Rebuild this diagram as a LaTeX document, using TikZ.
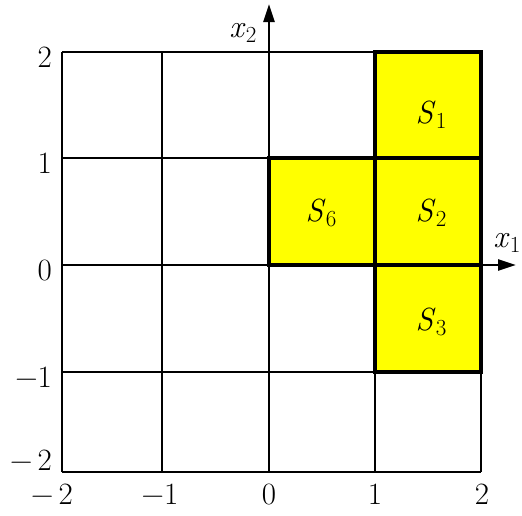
\documentclass[tikz,border=0pt]{standalone}
\usepackage{fontspec}
\usetikzlibrary{arrows.meta}
\definecolor{boxyellow}{RGB}{255,255,0}
\newcommand{\lab}[2]{\textit{#1}\kern0.01em\raisebox{-0.35ex}{\fontsize{23}{23}\selectfont #2}}
\begin{document}
\begin{tikzpicture}[x=1pt,y=-1pt,
  thin line/.style={line width=2.2pt},
  thick line/.style={line width=4pt},
  axis/.style={line width=2.6pt, -{Triangle[length=18pt,width=11pt]}},
  tick/.style={font=\fontsize{31}{31}\selectfont, inner sep=0pt},
  slabel/.style={font=\fontsize{32}{32}\selectfont, inner sep=0pt}]
\useasboundingbox (0,0) rectangle (522,515);
% yellow squares
\fill[boxyellow] (375,52) rectangle (481,372);
\fill[boxyellow] (269,158) rectangle (375,265);
% grid
\foreach \x in {62,162,269,375,481} \draw[thin line] (\x,52) -- (\x,472);
\foreach \y in {52,158,265,372,472} \draw[thin line] (62,\y) -- (481,\y);
% thick borders
\draw[thick line] (375,52) rectangle (481,372);
\draw[thick line] (375,158) -- (481,158);
\draw[thick line] (375,265) -- (481,265);
\draw[thick line] (269,158) rectangle (375,265);
% axes
\coordinate (ox) at (62,265);
\coordinate (ex) at (516,265);
\coordinate (oy) at (269,472);
\coordinate (ey) at (269,4);
\draw[axis] (ox) -- (ex);
\draw[axis] (oy) -- (ey);
% axis labels
\node[slabel] (lx1) at (507,243) {\lab{x}{1}};
\node[slabel] (lx2) at (243,33) {\lab{x}{2}};
% region labels
\node[slabel] (s1) at (431,115) {\lab{S}{1}};
\node[slabel] (s2) at (431,213) {\lab{S}{2}};
\node[slabel] (s6) at (321,213) {\lab{S}{6}};
\node[slabel] (s3) at (431,322) {\lab{S}{3}};
% y ticks
\node[tick, anchor=east] (ty2) at (52,57) {2};
\node[tick, anchor=east] (ty1) at (52,163) {1};
\node[tick, anchor=east] (ty0) at (52,270) {0};
\node[tick, anchor=east] (tym1) at (52,377) {−1};
\node[tick, anchor=east] (tym2) at (52,460) {−\,2};
% x ticks
\node[tick] (tx2m) at (52,494) {−\,2};
\node[tick] (tx1m) at (160,494) {−1};
\node[tick] (tx0) at (269,494) {0};
\node[tick] (tx1) at (375,494) {1};
\node[tick] (tx2) at (482,494) {2};
\end{tikzpicture}
\end{document}
